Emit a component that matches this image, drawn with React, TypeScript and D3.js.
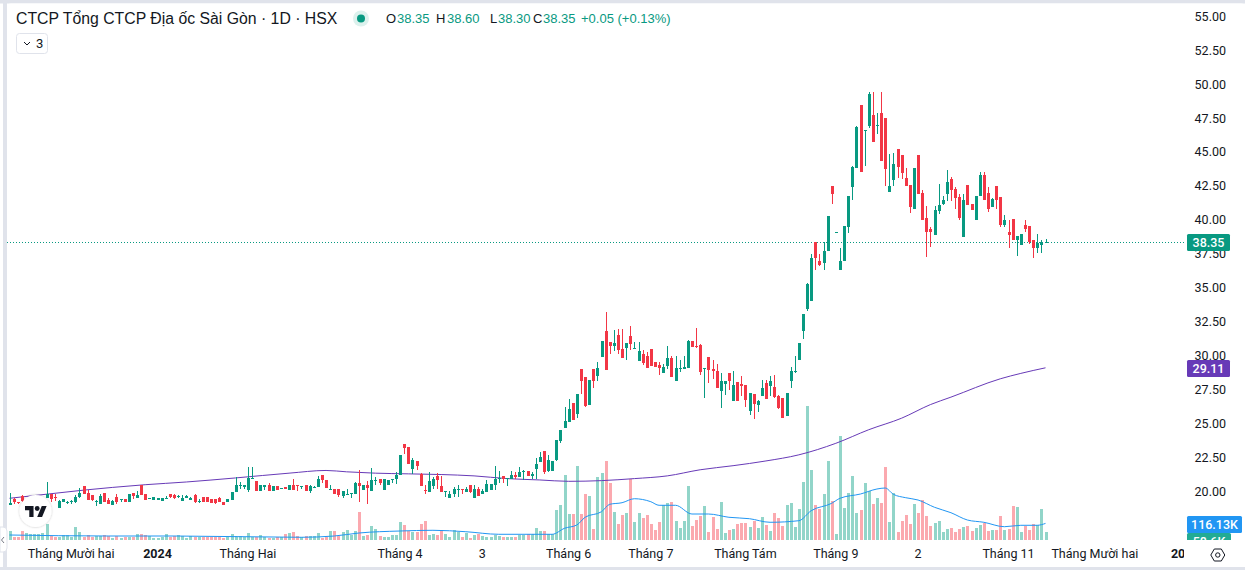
import * as d3 from "d3";

// prices, one entry per trading day
const opens = [
  19.0, 19.45, 19.25, 19.65, 19.1, 19.1, 19.2, 19.2, 19.3, 19.5,
  19.85, 19.6, 18.8, 19.2, 19.2, 19.2, 19.2, 19.6, 20.4, 19.9,
  19.75, 19.25, 19.1, 19.9, 19.35, 19.0, 19.6, 19.4, 19.45, 19.25,
  19.9, 19.5, 20.45, 19.8, 19.5, 19.4, 19.4, 19.3, 19.5, 19.8,
  19.75, 19.6, 19.3, 19.5, 19.35, 19.75, 19.2, 19.6, 19.6, 19.45,
  19.45, 19.55, 19.25, 19.2, 19.4, 19.95, 20.4, 20.35, 20.1, 20.95,
  20.75, 20.05, 20.35, 20.5, 20.05, 20.4, 20.15, 20.3, 20.1, 20.5,
  20.5, 20.35, 20.5, 20.05, 20.3, 20.35, 21.2, 20.85, 20.1, 20.2,
  20.2, 19.7, 19.8, 19.85, 19.85, 20.6, 20.1, 20.5, 20.05, 20.8,
  20.95, 20.1, 20.5, 20.9, 20.9, 21.2, 23.5, 23.25, 21.65, 22.25,
  21.3, 20.1, 20.0, 20.4, 21.15, 20.4, 20.0, 19.55, 19.8, 20.1,
  20.2, 19.95, 20.5, 19.5, 20.2, 19.8, 19.95, 20.1, 20.5, 20.95,
  21.15, 20.95, 20.95, 21.2, 21.05, 21.45, 21.5, 21.15, 21.65, 22.15,
  23.0, 21.5, 21.5, 22.3, 23.7, 24.65, 25.1, 26.5, 25.7, 29.0,
  28.45, 26.35, 29.0, 28.5, 29.9, 31.8, 31.0, 30.7, 31.5, 30.5,
  30.55, 31.45, 30.5, 29.6, 30.1, 30.0, 30.5, 29.55, 29.3, 28.7,
  29.25, 29.85, 28.15, 29.05, 29.05, 29.1, 31.1, 30.7, 30.8, 29.0,
  29.9, 29.0, 28.85, 27.4, 27.9, 28.7, 26.65, 28.05, 27.9, 27.85,
  25.9, 27.2, 26.35, 27.05, 28.0, 27.75, 27.7, 27.05, 26.9, 25.55,
  28.15, 28.8, 29.7, 31.8, 33.45, 34.0, 38.4, 36.95, 36.8, 37.7,
  42.5, 39.05, 36.3, 36.95, 39.5, 42.4, 43.8, 48.45, 46.55, 46.9,
  47.7, 46.9, 47.85, 47.5, 42.05, 42.95, 45.2, 44.8, 43.1, 42.55,
  40.8, 44.8, 42.0, 40.15, 39.3, 38.9, 40.65, 41.15, 41.9, 43.0,
  42.25, 41.7, 38.75, 42.55, 41.15, 40.0, 41.75, 43.3, 42.0, 40.95,
  42.5, 41.7, 39.6, 39.1, 40.05, 38.5, 38.15, 39.6, 39.55, 38.5,
  37.95, 38.15, 38.35,
];
const highs = [
  19.9, 19.5, 19.25, 19.75, 19.3, 19.35, 19.4, 19.45, 19.6, 20.7,
  19.85, 19.8, 19.35, 19.45, 19.3, 19.4, 19.75, 20.25, 20.4, 20.1,
  19.75, 19.4, 19.85, 19.9, 19.5, 19.35, 19.85, 19.45, 19.45, 19.85,
  19.9, 20.05, 20.5, 19.8, 19.55, 19.6, 19.55, 19.5, 19.65, 19.85,
  19.8, 19.75, 19.75, 19.75, 19.6, 19.8, 19.45, 19.6, 19.6, 19.45,
  19.45, 19.6, 19.25, 19.45, 20.0, 21.05, 20.7, 20.45, 21.8, 21.8,
  20.75, 20.45, 20.5, 20.6, 20.4, 20.4, 20.25, 20.35, 20.5, 20.9,
  20.5, 20.4, 20.5, 20.45, 20.4, 21.15, 21.2, 20.85, 20.5, 20.2,
  20.2, 20.05, 20.2, 19.9, 20.7, 21.6, 20.5, 20.75, 21.7, 21.05,
  20.95, 20.9, 20.85, 20.95, 21.45, 22.7, 23.5, 23.25, 22.5, 22.25,
  21.35, 20.45, 21.45, 21.05, 21.35, 21.15, 20.05, 20.05, 20.35, 20.5,
  20.2, 20.35, 20.5, 20.45, 20.3, 20.2, 20.85, 20.55, 21.9, 21.5,
  21.15, 21.0, 21.5, 21.4, 21.8, 21.6, 21.5, 21.45, 22.5, 22.9,
  23.0, 22.7, 22.25, 23.8, 24.55, 26.2, 26.8, 26.5, 27.15, 29.0,
  28.45, 28.2, 29.0, 29.55, 31.1, 33.2, 31.0, 31.9, 32.0, 32.0,
  30.95, 32.2, 31.0, 31.0, 30.4, 30.25, 30.5, 29.55, 29.55, 29.4,
  30.7, 30.0, 30.0, 29.7, 29.95, 31.15, 31.1, 32.05, 30.85, 29.1,
  29.9, 29.7, 29.4, 28.7, 28.15, 28.7, 28.85, 28.05, 28.5, 27.85,
  27.25, 27.2, 26.75, 28.2, 28.2, 28.5, 28.6, 27.1, 26.9, 27.25,
  29.15, 30.0, 30.95, 33.05, 35.35, 37.5, 38.4, 37.5, 38.35, 40.3,
  42.5, 39.1, 37.95, 39.55, 41.75, 44.0, 46.95, 48.45, 46.6, 49.4,
  49.4, 47.85, 49.4, 47.5, 44.85, 44.9, 45.2, 44.8, 43.8, 42.55,
  43.8, 44.8, 42.2, 41.0, 39.45, 41.0, 42.65, 41.75, 43.65, 43.15,
  42.4, 41.9, 41.9, 42.55, 41.15, 41.75, 43.5, 43.5, 42.4, 41.6,
  42.5, 41.7, 40.35, 40.0, 40.05, 38.8, 38.95, 40.0, 39.55, 38.5,
  38.95, 38.5, 38.6,
];
const lows = [
  19.0, 19.1, 19.1, 19.25, 19.0, 19.05, 19.1, 19.1, 19.25, 19.5,
  19.2, 19.3, 18.8, 19.2, 19.1, 19.1, 19.15, 19.55, 19.8, 19.35,
  19.3, 18.9, 19.05, 19.25, 19.05, 19.0, 19.1, 19.2, 19.25, 19.25,
  19.45, 19.5, 19.75, 19.4, 19.5, 19.4, 19.4, 19.3, 19.45, 19.55,
  19.45, 19.5, 19.3, 19.5, 19.35, 19.15, 19.15, 19.2, 19.2, 19.15,
  19.1, 19.2, 19.0, 19.2, 19.4, 19.95, 20.15, 20.2, 20.0, 20.95,
  20.05, 20.05, 20.1, 20.05, 20.05, 20.1, 20.15, 20.15, 20.1, 20.1,
  20.05, 20.2, 20.05, 19.9, 20.25, 20.35, 20.6, 20.25, 20.1, 19.85,
  19.6, 19.55, 19.75, 19.5, 19.85, 19.2, 20.1, 19.1, 20.05, 20.5,
  20.45, 20.1, 20.5, 20.6, 20.55, 21.2, 22.75, 22.0, 21.3, 21.6,
  20.4, 19.85, 20.0, 20.2, 20.2, 20.0, 19.6, 19.55, 19.6, 19.6,
  19.85, 19.95, 19.9, 19.5, 19.65, 19.8, 19.95, 20.1, 20.1, 20.6,
  20.6, 20.4, 20.95, 20.95, 21.05, 20.85, 21.15, 20.9, 20.9, 22.15,
  21.3, 21.45, 21.5, 22.25, 23.6, 24.65, 25.1, 25.25, 25.4, 27.2,
  26.2, 26.35, 27.6, 28.15, 29.9, 28.95, 30.1, 30.35, 30.1, 29.85,
  29.7, 30.4, 30.5, 29.6, 29.3, 29.1, 29.25, 29.15, 28.6, 28.7,
  29.0, 28.45, 28.15, 28.8, 29.05, 29.1, 30.65, 30.6, 28.6, 26.9,
  28.0, 28.3, 27.6, 26.15, 27.1, 27.45, 26.65, 26.7, 27.05, 26.2,
  25.6, 25.35, 25.85, 27.05, 26.8, 27.05, 26.9, 26.05, 25.4, 25.55,
  27.6, 28.7, 29.7, 31.25, 33.3, 34.0, 36.3, 36.6, 36.3, 37.7,
  41.15, 39.05, 36.3, 36.95, 39.05, 41.45, 43.8, 43.55, 43.95, 46.75,
  45.75, 46.3, 44.35, 42.5, 42.05, 42.5, 43.1, 43.0, 42.5, 40.5,
  40.8, 41.9, 40.0, 37.25, 38.0, 38.9, 40.45, 41.1, 41.4, 41.4,
  40.8, 40.0, 38.75, 41.1, 40.7, 40.0, 41.75, 41.45, 40.6, 40.95,
  40.8, 39.45, 39.45, 37.9, 38.5, 37.35, 38.15, 39.1, 38.2, 37.2,
  37.55, 37.55, 38.3,
];
const closes = [
  19.15, 19.25, 19.2, 19.3, 19.25, 19.3, 19.35, 19.4, 19.55, 19.85,
  19.45, 19.55, 19.3, 19.45, 19.25, 19.3, 19.6, 19.9, 19.8, 19.4,
  19.4, 19.3, 19.7, 19.25, 19.1, 19.3, 19.25, 19.45, 19.25, 19.8,
  19.65, 19.75, 19.75, 19.4, 19.55, 19.6, 19.55, 19.5, 19.55, 19.6,
  19.5, 19.65, 19.55, 19.65, 19.55, 19.2, 19.3, 19.2, 19.2, 19.15,
  19.15, 19.2, 19.0, 19.45, 20.0, 20.5, 20.45, 20.45, 21.0, 21.0,
  20.05, 20.45, 20.45, 20.05, 20.4, 20.1, 20.25, 20.15, 20.5, 20.1,
  20.45, 20.4, 20.05, 20.4, 20.35, 20.9, 20.85, 20.25, 20.2, 19.85,
  19.75, 20.05, 19.85, 19.9, 20.6, 20.4, 20.5, 20.25, 20.85, 20.85,
  20.6, 20.9, 20.85, 20.95, 21.2, 22.7, 23.2, 22.0, 22.3, 21.9,
  20.4, 20.05, 20.8, 20.9, 20.85, 20.0, 20.05, 19.85, 20.2, 20.15,
  20.15, 20.2, 20.0, 20.2, 19.65, 20.05, 20.55, 20.55, 20.9, 21.0,
  20.9, 21.0, 21.2, 21.1, 21.45, 21.5, 21.15, 21.3, 22.0, 22.55,
  21.45, 22.3, 22.25, 23.8, 24.5, 25.2, 26.05, 25.3, 27.15, 28.15,
  26.3, 28.2, 28.15, 29.1, 31.1, 28.95, 30.7, 30.95, 30.4, 29.85,
  30.95, 30.85, 30.55, 30.35, 29.45, 29.1, 29.25, 29.15, 29.1, 29.15,
  29.85, 28.45, 29.1, 29.1, 29.15, 31.1, 30.65, 30.65, 28.8, 29.1,
  28.95, 28.9, 27.6, 28.15, 28.15, 28.15, 27.85, 26.7, 27.75, 26.75,
  27.25, 26.45, 26.65, 27.6, 26.8, 28.15, 26.95, 26.15, 25.4, 27.25,
  28.9, 28.9, 30.95, 33.05, 35.3, 37.2, 37.2, 36.65, 37.7, 40.3,
  41.9, 39.1, 36.95, 39.55, 41.75, 43.9, 46.85, 43.55, 46.6, 49.25,
  45.75, 47.0, 44.35, 43.75, 42.5, 44.1, 43.9, 43.45, 42.5, 40.95,
  43.8, 41.9, 40.0, 39.1, 39.1, 40.75, 41.1, 41.45, 42.8, 42.2,
  41.6, 40.15, 41.45, 41.1, 40.7, 41.75, 43.3, 41.45, 40.8, 41.55,
  41.45, 39.6, 40.0, 38.9, 38.5, 38.8, 38.95, 39.3, 38.35, 37.95,
  38.3, 38.35, 38.35,
];
// thousands of shares
const volumes = [
  63, 19, 19, 63, 49, 45, 45, 45, 49, 112,
  28, 21, 21, 38, 38, 24, 91, 56, 19, 37,
  23, 28, 30, 35, 28, 16, 30, 16, 21, 23,
  21, 45, 44, 38, 28, 14, 16, 23, 45, 23,
  30, 35, 30, 12, 26, 23, 19, 23, 19, 19,
  21, 19, 12, 19, 42, 28, 28, 23, 47, 23,
  21, 35, 19, 12, 14, 19, 21, 40, 49, 56,
  30, 19, 28, 28, 30, 47, 16, 21, 63, 63,
  28, 54, 68, 35, 63, 196, 28, 33, 98, 77,
  26, 19, 19, 37, 33, 124, 103, 63, 58, 58,
  110, 135, 33, 42, 37, 70, 40, 19, 70, 56,
  19, 51, 16, 33, 42, 26, 23, 19, 35, 28,
  23, 19, 19, 21, 37, 37, 40, 44, 84, 65,
  63, 42, 42, 210, 245, 455, 182, 182, 518, 182,
  322, 308, 77, 441, 469, 553, 399, 196, 112, 175,
  189, 427, 126, 189, 154, 175, 112, 70, 126, 245,
  259, 266, 133, 84, 133, 378, 98, 140, 168, 238,
  56, 161, 77, 266, 49, 70, 77, 112, 119, 119,
  91, 133, 84, 161, 105, 63, 189, 154, 98, 245,
  259, 91, 217, 406, 938, 490, 245, 217, 322, 553,
  273, 42, 728, 224, 329, 448, 189, 210, 399, 343,
  252, 294, 259, 511, 126, 329, 56, 133, 175, 112,
  252, 189, 280, 168, 98, 119, 133, 56, 77, 84,
  56, 77, 91, 98, 63, 84, 105, 119, 63, 70,
  70, 168, 70, 77, 238, 231, 56, 98, 70, 112,
  105, 217, 58.6,
];
const volumeMaLast = 116.13;

// slow moving average on price, read at these bar numbers
const priceMaBars = [0, 9, 18, 25, 33, 43, 55, 68, 77, 82, 89, 97, 105, 113, 121, 129, 136, 144, 152, 160, 168, 176, 184, 192, 201, 209, 217, 224, 229, 241, 246, 252];
const priceMaValues = [19.5, 19.8, 20.1, 20.3, 20.5, 20.7, 21.0, 21.35, 21.55, 21.45, 21.35, 21.3, 21.25, 21.15, 20.95, 20.85, 20.75, 20.8, 20.95, 21.15, 21.6, 21.9, 22.25, 22.7, 23.55, 24.55, 25.4, 26.4, 26.95, 28.3, 28.7, 29.11];

// volume moving average, read at these bar numbers
const volMaBars = [0, 24, 40, 71, 79, 85, 95, 103, 111, 119, 127, 132, 135, 138, 140, 144, 146, 149, 152, 156, 158, 162, 166, 170, 175, 180, 185, 192, 195, 200, 202, 207, 211, 213, 215, 218, 221, 225, 229, 233, 237, 242, 246, 250, 252];
const volMaValues = [35, 28, 28, 19, 28, 49, 63, 68, 58, 40, 40, 40, 82, 105, 159, 198, 250, 261, 289, 268, 243, 243, 182, 182, 159, 149, 124, 135, 205, 257, 292, 322, 357, 364, 320, 296, 280, 229, 191, 140, 124, 93, 103, 103, 116.13];

const priceTicks = [20, 22.5, 25, 27.5, 30, 32.5, 35, 37.5, 40, 42.5, 45, 47.5, 50, 52.5, 55];
const timeTickBars = [15, 36, 58, 95, 115, 136, 156, 179, 201, 221, 243, 264, 286];
const timeTickLabels = ["Tháng Mười hai", "2024", "Tháng Hai", "Tháng 4", "3", "Tháng 6", "Tháng 7", "Tháng Tám", "Tháng 9", "2", "Tháng 11", "Tháng Mười hai", "2025"];
const boldTicks = ["2024", "2025"];

const UP = "#089981";
const DOWN = "#f23645";
const UP_VOL = "#92d5c9";
const DOWN_VOL = "#fba9af";
const BORDER = "#e0e3eb";
const TEXT = "#131722";
const FONT = "Roboto, sans-serif";
const LEGEND_FONT = "'Liberation Sans', sans-serif";

export default function App() {
  const x = d3.scaleLinear().domain([0, 252]).range([9.5, 1045.5]);
  const y = d3.scaleLinear().domain([20, 55]).range([491.5, 16.3]);
  const yVol = d3.scaleLinear().domain([0, 700]).range([540, 440]);

  const priceMaLine = d3.line<number>()
    .x((_, i) => x(priceMaBars[i]))
    .y(d => y(d))
    .curve(d3.curveMonotoneX);
  const volMaLine = d3.line<number>()
    .x((_, i) => x(volMaBars[i]))
    .y(d => yVol(d))
    .curve(d3.curveMonotoneX);

  const lastClose = closes[closes.length - 1];
  const lastLine = Math.round(y(lastClose)) + 0.5;

  return (
    <svg
      width={1245}
      height={570}
      style={{ position: "absolute", left: 0, top: 0, background: "#fff", fontFamily: FONT }}
    >
      <defs>
        <clipPath id="pane"><rect x={7} y={0} width={1177} height={540} /></clipPath>
        <clipPath id="timeAxis"><rect x={7} y={540} width={1177} height={27} /></clipPath>
        <clipPath id="volLabel"><rect x={1184} y={0} width={61} height={540} /></clipPath>
        <filter id="logoShadow" x="-30%" y="-30%" width="160%" height="160%">
          <feDropShadow dx={0} dy={0} stdDeviation={1} floodColor="#131722" floodOpacity={0.25} />
        </filter>
      </defs>

      {/* surrounding frame */}
      <rect x={0} y={0} width={1245} height={3.5} fill={BORDER} />
      <rect x={3} y={0} width={4} height={570} fill={BORDER} />
      <rect x={0} y={567} width={1245} height={3} fill={BORDER} />
      <rect x={7} y={3.5} width={1238} height={563.5} rx={4} fill="#fff" />

      <g clipPath="url(#pane)">
        {volumes.map((v, i) => (
          <rect
            key={i}
            x={Math.round(x(i)) - 1}
            y={Math.round(yVol(v))}
            width={3}
            height={540 - Math.round(yVol(v))}
            fill={closes[i] >= opens[i] ? UP_VOL : DOWN_VOL}
          />
        ))}
        <path d={volMaLine(volMaValues) ?? ""} fill="none" stroke="#2196f3" strokeWidth={1} />
        <path d={priceMaLine(priceMaValues) ?? ""} fill="none" stroke="#673ab7" strokeWidth={1} />

        <line x1={7} x2={1187} y1={lastLine} y2={lastLine} stroke={UP} strokeDasharray="1 2" />

        {opens.map((o, i) => {
          const c = closes[i];
          const color = c >= o ? UP : DOWN;
          const cx = Math.round(x(i));
          const top = Math.round(y(Math.max(o, c)));
          const bottom = Math.round(y(Math.min(o, c)));
          const high = Math.round(y(highs[i]));
          const low = Math.round(y(lows[i]));
          return (
            <g key={i} fill={color}>
              <rect x={cx} y={high} width={1} height={Math.max(low - high, 1)} />
              <rect x={cx - 1} y={top} width={3} height={Math.max(bottom - top, 1)} />
            </g>
          );
        })}
      </g>

      {/* price scale */}
      {priceTicks.map(t => (
        <text key={t} x={1226} y={y(t)} dy="0.35em" textAnchor="end" fontSize={12.5} fill={TEXT}>
          {d3.format(".2f")(t)}
        </text>
      ))}

      <rect x={1187} y={234} width={43} height={17} rx={1.5} fill={UP} />
      <text x={1208.5} y={242.5} dy="0.36em" textAnchor="middle" fontSize={12.5} fontWeight={500} fill="#fff">
        {d3.format(".2f")(lastClose)}
      </text>
      <rect x={1187} y={360} width={43} height={17} rx={1.5} fill="#673ab7" />
      <text x={1208.5} y={368.5} dy="0.36em" textAnchor="middle" fontSize={12.5} fontWeight={500} fill="#fff">
        {d3.format(".2f")(priceMaValues[priceMaValues.length - 1])}
      </text>

      <g clipPath="url(#volLabel)">
        <rect x={1187} y={533} width={44} height={17} rx={1.5} fill="#22ab94" />
        <text x={1209} y={541.5} dy="0.36em" textAnchor="middle" fontSize={12.5} fontWeight={500} fill="#fff">
          {volumes[volumes.length - 1]}K
        </text>
      </g>
      <rect x={1187} y={516} width={55} height={17} rx={1.5} fill="#2196f3" />
      <text x={1214.5} y={524.5} dy="0.36em" textAnchor="middle" fontSize={12.5} fontWeight={500} fill="#fff">
        {volumeMaLast}K
      </text>

      {/* time scale */}
      <g clipPath="url(#timeAxis)">
        {timeTickBars.map((b, i) => (
          <text
            key={i}
            x={x(b)}
            y={553.5}
            dy="0.35em"
            textAnchor="middle"
            fontSize={12.5}
            fontWeight={boldTicks.includes(timeTickLabels[i]) ? 700 : 400}
            fill={TEXT}
          >
            {timeTickLabels[i]}
          </text>
        ))}
      </g>

      {/* chart settings icon */}
      <g transform="translate(1217.8,555)" fill="none" stroke={TEXT} strokeWidth={1}>
        <path d="M-7,0 L-3.5,-6 L3.5,-6 L7,0 L3.5,6 L-3.5,6 Z" strokeLinejoin="round" />
        <circle r={2.2} />
      </g>

      {/* legend */}
      <text x={16} y={18.5} dy="0.35em" fontSize={15.8} fill={TEXT} fontFamily={LEGEND_FONT}>
        CTCP Tổng CTCP Địa ốc Sài Gòn · 1D · HSX
      </text>
      <circle cx={361} cy={18.5} r={8} fill={UP} fillOpacity={0.14} />
      <circle cx={361} cy={18.5} r={4} fill={UP} />
      <text y={18.5} dy="0.35em" fontSize={13} fill={UP} fontFamily={LEGEND_FONT}>
        <tspan x={386} fill={TEXT}>O</tspan><tspan x={397}>38.35</tspan>
        <tspan x={436} fill={TEXT}>H</tspan><tspan x={447}>38.60</tspan>
        <tspan x={490} fill={TEXT}>L</tspan><tspan x={498}>38.30</tspan>
        <tspan x={533} fill={TEXT}>C</tspan><tspan x={543}>38.35</tspan>
        <tspan x={581}>+0.05 (+0.13%)</tspan>
      </text>
      <rect x={16.5} y={33.5} width={31} height={20} rx={3} fill="#fff" stroke={BORDER} />
      <path d="M24,42 L27,45 L30,42" fill="none" stroke={TEXT} strokeWidth={1} />
      <text x={36} y={43.5} dy="0.35em" fontSize={13} fill={TEXT}>3</text>

      {/* logo badge over the chart */}
      <circle cx={35.5} cy={511} r={16} fill="#fff" filter="url(#logoShadow)" />
      <g transform="translate(25,503.6) scale(0.61)" fill={TEXT}>
        <path d="M14 22H7V11H0V4h14v18zM28 22h-8l7.5-18h8L28 22z" />
        <circle cx={20} cy={8} r={4} />
      </g>

      {/* collapse tab */}
      <path d="M0,527 H3 Q7,527 7,531 V548 Q7,552 3,552 H0 Z" fill="#fff" stroke={BORDER} />
      <path d="M4,537 L1.5,540 L4,543" fill="none" stroke="#787b86" strokeWidth={1} />
    </svg>
  );
}
